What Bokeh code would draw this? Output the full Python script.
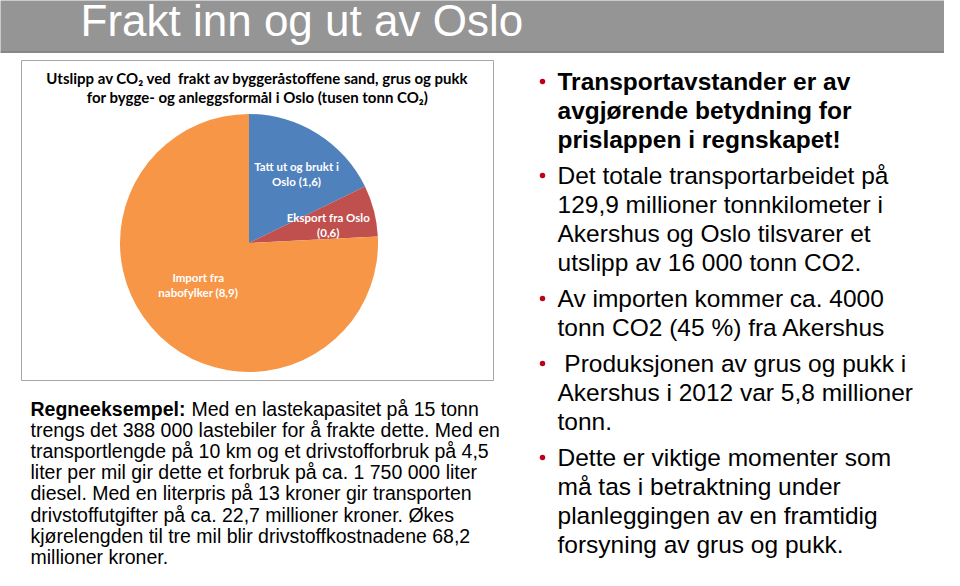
import numpy as np
from bokeh.plotting import figure
from bokeh.models import Range1d
from bokeh.core.properties import value
from bokeh.embed import file_html
from bokeh.resources import INLINE

# ---------------- data ----------------
slide_title = "Frakt inn og ut av Oslo"
chart_title = [
    "Utslipp av CO\u2082 ved\u00a0 frakt av byggeråstoffene sand, grus og pukk",
    "for bygge- og anleggsformål i Oslo (tusen tonn CO\u2082)",
]
categories = ["Tatt ut og brukt i Oslo", "Eksport fra Oslo", "Import fra nabofylker"]
label_lines = [["Tatt ut og brukt i", "Oslo"], ["Eksport fra Oslo", ""], ["Import fra", "nabofylker"]]
values = [1.6, 0.6, 8.9]            # tusen tonn CO2 (as labelled)
shares_pct = [17.8, 6.4, 75.8]      # slice sizes as drawn in the picture (%)
colors = ["#4F81BD", "#C0504D", "#F79646"]

example_bold = "Regneeksempel:"
example_lines = [
    "Med en lastekapasitet på 15 tonn",
    "trengs det 388 000 lastebiler for å frakte dette. Med en",
    "transportlengde på 10 km og et drivstofforbruk på 4,5",
    "liter per mil gir dette et forbruk på ca. 1 750 000 liter",
    "diesel. Med en literpris på 13 kroner gir transporten",
    "drivstoffutgifter på ca. 22,7 millioner kroner. Økes",
    "kjørelengden til tre mil blir drivstoffkostnadene 68,2",
    "millioner kroner.",
]
bullets = [
    (True, ["Transportavstander er av", "avgjørende betydning for", "prislappen i regnskapet!"]),
    (False, ["Det totale transportarbeidet på", "129,9 millioner tonnkilometer i",
             "Akershus og Oslo tilsvarer et", "utslipp av 16 000 tonn CO2."]),
    (False, ["Av importen kommer ca. 4000", "tonn CO2 (45 %) fra Akershus"]),
    (False, ["\u00a0Produksjonen av grus og pukk i", "Akershus i 2012 var 5,8 millioner", "tonn."]),
    (False, ["Dette er viktige momenter som", "må tas i betraktning under",
             "planleggingen av en framtidig", "forsyning av grus og pukk."]),
]

# ---------------- layout ----------------
PW, PH = 944, 570
H = 586
def Y(y):
    return H - y

p = figure(width=PW, height=PH, output_backend="svg", toolbar_location=None,
           x_range=Range1d(0, PW), y_range=Range1d(H - PH, H), min_border=0)
p.axis.visible = False
p.grid.visible = False
p.outline_line_color = None
p.background_fill_color = "white"
p.border_fill_color = "white"

ARIAL = value("Liberation Sans")
CAL = value("Lato")

# title bar
p.quad(left=-5, right=PW + 5, top=Y(-5), bottom=Y(51), fill_color="#959595", line_color=None)
p.quad(left=-5, right=PW + 5, top=Y(50.5), bottom=Y(52.5), fill_color="#878787", line_color=None)
p.text(x=[80], y=[Y(20)], text=[slide_title], text_font=ARIAL, text_font_size="44px",
       text_color="white", text_baseline="middle", text_align="left")

# chart box
bx0, bx1, by0, by1 = 21, 493, 60, 380
p.quad(left=bx0, right=bx1, top=Y(by0), bottom=Y(by1), fill_color="white",
       line_color="#A6A6A6", line_width=1)
tcx = (bx0 + bx1) / 2
for i, t in enumerate(chart_title):
    p.text(x=[tcx], y=[Y(77 + 19 * i)], text=[t], text_font=CAL, text_font_size="15px",
           text_font_style="bold", text_color="black", text_align="center", text_baseline="middle")

# pie
cx, cy, R = 248.5, Y(242.5), 129
frac = np.array(shares_pct) / np.sum(shares_pct)
ends = np.pi / 2 - 2 * np.pi * np.cumsum(frac)
starts = np.concatenate([[np.pi / 2], ends[:-1]])
p.wedge(x=cx, y=cy, radius=R, start_angle=starts, end_angle=ends, direction="clock",
        fill_color=colors, line_color=None)

mids = (starts + ends) / 2
rfrac = [0.65, 0.63, 0.51]
atweak = np.radians([-2.5, -1.6, -7.0])
for k in range(len(categories)):
    a = mids[k] + atweak[k]
    lx = cx + R * rfrac[k] * np.cos(a)
    ly = cy + R * rfrac[k] * np.sin(a)
    vtxt = "(" + f"{values[k]:.1f}".replace(".", ",") + ")"
    l1, l2 = label_lines[k]
    lines = [l1, (l2 + " " + vtxt).strip()]
    for j, t in enumerate(lines):
        p.text(x=[lx], y=[ly + 7.5 - 15 * j], text=[t], text_font=CAL, text_font_size="11.5px",
               text_font_style="bold", text_color="white", text_align="center",
               text_baseline="middle")

# example text (left)
lx0, ly0, lstep = 30, 408, 21.2
p.text(x=[lx0], y=[Y(ly0)], text=[example_bold], text_font=ARIAL, text_font_size="19.5px",
       text_font_style="bold", text_color="black", text_baseline="middle", text_align="left")
for i, t in enumerate(example_lines):
    x = 191 if i == 0 else lx0
    p.text(x=[x], y=[Y(ly0 + lstep * i)], text=[t], text_font=ARIAL, text_font_size="19.5px",
           text_color="black", text_baseline="middle", text_align="left")

# bullets (right)
idx = 0
for pi, (bold, lines) in enumerate(bullets):
    y_first = 81 + 29 * idx + 7 * pi
    p.scatter(x=[542], y=[Y(y_first)], size=5.5, marker="circle", fill_color="#C00018",
              line_color=None)
    for t in lines:
        yy = 81 + 29 * idx + 7 * pi
        p.text(x=[557], y=[Y(yy)], text=[t], text_font=ARIAL, text_font_size="24.5px",
               text_font_style="bold" if bold else "normal", text_color="black",
               text_baseline="middle", text_align="left")
        idx += 1

open("out.html", "w").write(file_html(p, INLINE))
